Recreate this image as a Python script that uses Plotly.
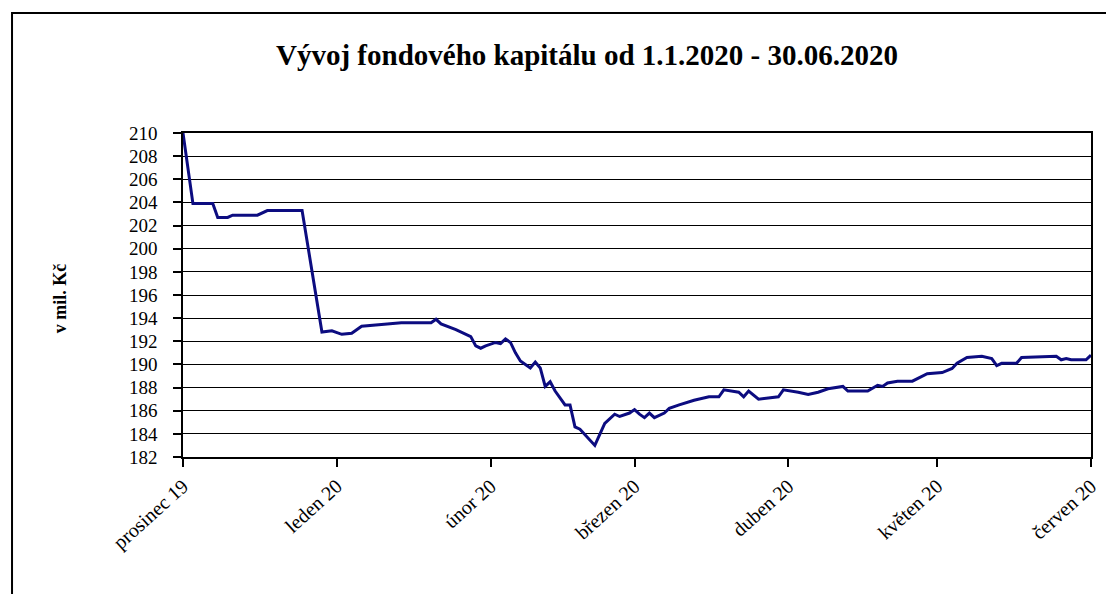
import plotly.graph_objects as go

dates = [
    "2019-12-01", "2019-12-03", "2019-12-07", "2019-12-08", "2019-12-10", "2019-12-11",
    "2019-12-16", "2019-12-18", "2019-12-25", "2019-12-29", "2019-12-31",
    "2020-01-02", "2020-01-04", "2020-01-06", "2020-01-10", "2020-01-14", "2020-01-20",
    "2020-01-21", "2020-01-22", "2020-01-25", "2020-01-28", "2020-01-29", "2020-01-30",
    "2020-01-31", "2020-02-02", "2020-02-03", "2020-02-04", "2020-02-05", "2020-02-06",
    "2020-02-07", "2020-02-09", "2020-02-10", "2020-02-11", "2020-02-12", "2020-02-13",
    "2020-02-14", "2020-02-16", "2020-02-17", "2020-02-18", "2020-02-19", "2020-02-22",
    "2020-02-23", "2020-02-24", "2020-02-26", "2020-02-27", "2020-02-29", "2020-03-01",
    "2020-03-02", "2020-03-03", "2020-03-04", "2020-03-05", "2020-03-07", "2020-03-08",
    "2020-03-10", "2020-03-13", "2020-03-16", "2020-03-18", "2020-03-19", "2020-03-22",
    "2020-03-23", "2020-03-24", "2020-03-26", "2020-03-30", "2020-03-31", "2020-04-03",
    "2020-04-05", "2020-04-07", "2020-04-09", "2020-04-12", "2020-04-13", "2020-04-17",
    "2020-04-19", "2020-04-20", "2020-04-21", "2020-04-23", "2020-04-26", "2020-04-29",
    "2020-05-02", "2020-05-04", "2020-05-05", "2020-05-07", "2020-05-10", "2020-05-12",
    "2020-05-13", "2020-05-14", "2020-05-17", "2020-05-18", "2020-05-25", "2020-05-26",
    "2020-05-27", "2020-05-28", "2020-05-31", "2020-06-01",
]

values = [
    210.0, 203.9, 203.9, 202.7, 202.7, 202.9,
    202.9, 203.3, 203.3, 192.8, 192.9,
    192.6, 192.7, 193.3, 193.45, 193.6, 193.6,
    193.9, 193.5, 193.0, 192.4, 191.6, 191.4,
    191.6, 191.9, 191.8, 192.2, 191.9, 191.0,
    190.3, 189.7, 190.2, 189.7, 188.1, 188.5,
    187.7, 186.5, 186.5, 184.6, 184.4, 183.0,
    183.9, 184.9, 185.7, 185.5, 185.8, 186.1,
    185.7, 185.4, 185.8, 185.4, 185.8, 186.2,
    186.5, 186.9, 187.2, 187.2, 187.8, 187.6,
    187.2, 187.7, 187.0, 187.2, 187.8, 187.6,
    187.4, 187.6, 187.9, 188.1, 187.7, 187.7,
    188.2, 188.1, 188.4, 188.55, 188.55, 189.2,
    189.3, 189.65, 190.1, 190.6, 190.7, 190.5,
    189.9, 190.1, 190.1, 190.6, 190.7, 190.4,
    190.5, 190.4, 190.4, 190.8,
]

tick_dates = ["2019-12-01", "2020-01-01", "2020-02-01", "2020-03-01",
              "2020-04-01", "2020-05-01", "2020-06-01"]
tick_labels = ["prosinec 19", "leden 20", "únor 20", "březen 20",
               "duben 20", "květen 20", "červen 20"]

title_text = "Vývoj fondového kapitálu od 1.1.2020 - 30.06.2020"
y_title = "v mil. Kč"

FONT = "Liberation Serif, Times New Roman, serif"

fig = go.Figure()
fig.add_trace(go.Scatter(
    x=dates, y=values, mode="lines",
    line=dict(color="#0c0c80", width=3),
    showlegend=False, hoverinfo="x+y",
))

fig.update_layout(
    width=1106, height=586,
    margin=dict(l=175, r=23, t=125, b=137),
    paper_bgcolor="white", plot_bgcolor="white",
    font=dict(family=FONT, color="black", size=19),
    xaxis=dict(
        type="date",
        range=["2019-12-01", "2020-06-01"],
        tickmode="array", tickvals=tick_dates, ticktext=tick_labels,
        tickangle=-42, ticks="outside", ticklen=8, tickwidth=1.5, tickcolor="black",
        showgrid=False, showline=True, linecolor="black", linewidth=1.5,
        mirror=True, zeroline=False,
        tickfont=dict(family=FONT, size=20, color="black"),
    ),
    yaxis=dict(
        range=[182, 210], tick0=182, dtick=2,
        ticks="outside", ticklen=8, tickwidth=1.5, tickcolor="black",
        showgrid=True, gridcolor="black", gridwidth=1.3,
        showline=True, linecolor="black", linewidth=1.5, mirror=True,
        zeroline=False, ticklabelstandoff=12,
        tickfont=dict(family=FONT, size=19, color="black"),
    ),
    annotations=[
        dict(text="<b>" + title_text + "</b>", xref="paper", yref="paper",
             x=0.445, y=1.241, xanchor="center", yanchor="middle",
             showarrow=False, font=dict(family=FONT, size=29, color="black")),
        dict(text="<b>" + y_title + "</b>", xref="paper", yref="paper",
             x=-0.1355, y=0.49, xanchor="center", yanchor="middle",
             textangle=-90, showarrow=False,
             font=dict(family=FONT, size=18, color="black")),
    ],
    shapes=[
        dict(type="rect", xref="paper", yref="paper",
             x0=-0.1883, x1=1.2, y0=-1.0, y1=1.370,
             line=dict(color="black", width=2), fillcolor="rgba(0,0,0,0)",
             layer="below"),
    ],
)

fig.write_html("out.html")
